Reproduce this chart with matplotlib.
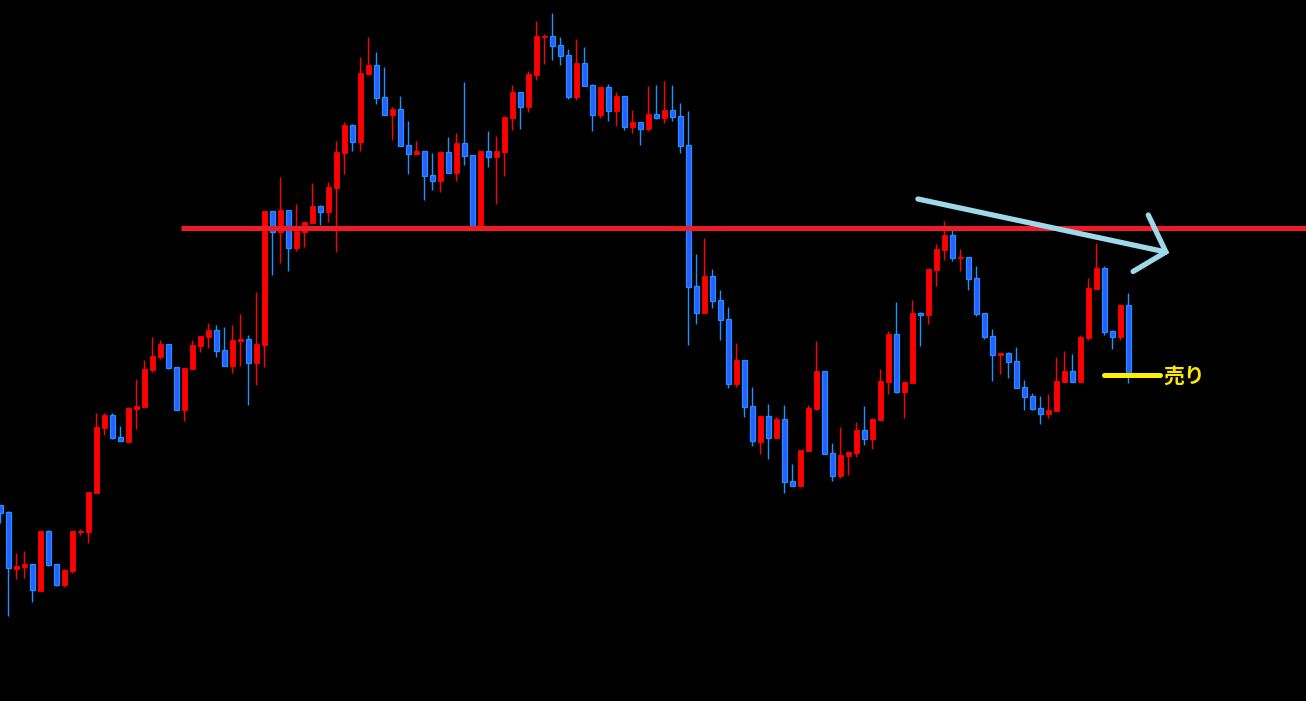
import matplotlib
matplotlib.use("Agg")
import matplotlib.pyplot as plt
from matplotlib.patches import Rectangle
import numpy as np

# Candle readings (screen levels: smaller = higher price). Price = 700 - level.
# Each candle: open, high, low, close as levels
open_lv = [505, 512, 569, 567, 564, 591, 531, 564, 585, 571, 532, 532, 493, 428, 415, 437, 442, 409, 407, 370,
           357, 344, 367, 410, 369, 346, 337, 330, 350, 366, 341, 339, 363, 345, 211, 232, 210, 248, 232, 223,
           206, 212, 188, 153, 125, 142, 74, 65, 97, 115, 109, 145, 154, 151, 175, 181, 152, 173, 143, 155,
           226, 151, 157, 152, 118, 92, 107, 75, 37, 36, 45, 55, 97, 63, 85, 115, 87, 111, 96, 127,
           122, 129, 114, 118, 110, 116, 145, 286, 313, 276, 300, 319, 384, 360, 406, 442, 416, 438, 419, 481,
           486, 451, 409, 371, 453, 476, 456, 453, 430, 439, 420, 382, 334, 392, 383, 313, 315, 270, 250, 235,
           258, 257, 278, 313, 336, 355, 353, 361, 387, 396, 408, 414, 411, 382, 371, 382, 338, 289, 268, 331,
           337, 305]
high_lv = [505, 511, 553, 551, 564, 531, 530, 564, 569, 531, 529, 492, 413, 413, 413, 426, 407, 379, 360, 337,
           340, 344, 367, 368, 340, 336, 323, 325, 327, 325, 314, 335, 292, 211, 211, 177, 210, 204, 222, 183,
           205, 182, 141, 122, 124, 57, 37, 52, 67, 107, 96, 121, 141, 151, 153, 151, 137, 133, 82, 155,
           151, 131, 136, 116, 85, 92, 71, 21, 34, 13, 37, 49, 39, 47, 84, 87, 84, 92, 96, 110,
           122, 86, 85, 81, 85, 103, 111, 254, 238, 269, 290, 307, 343, 360, 387, 416, 404, 417, 405, 464,
           450, 405, 341, 371, 443, 427, 451, 422, 406, 418, 369, 331, 302, 382, 300, 312, 269, 244, 221, 230,
           249, 257, 266, 313, 329, 353, 352, 347, 380, 393, 396, 394, 357, 351, 354, 335, 278, 243, 266, 330,
           305, 293]
low_lv = [523, 616, 579, 578, 602, 591, 566, 586, 587, 573, 535, 543, 493, 435, 439, 441, 442, 429, 407, 372,
          359, 369, 410, 421, 369, 352, 348, 357, 366, 373, 366, 405, 385, 367, 275, 263, 271, 251, 247, 223,
          225, 222, 252, 174, 151, 151, 74, 104, 115, 140, 146, 174, 155, 200, 190, 192, 173, 181, 165, 226,
          226, 167, 204, 176, 130, 129, 112, 80, 64, 60, 65, 99, 100, 86, 131, 118, 121, 126, 130, 133,
          145, 131, 119, 123, 121, 153, 345, 324, 313, 308, 340, 388, 387, 417, 446, 454, 459, 438, 493, 486,
          487, 451, 410, 454, 481, 478, 475, 457, 445, 449, 420, 394, 393, 418, 383, 346, 324, 286, 260, 261,
          271, 290, 316, 339, 381, 374, 378, 388, 410, 410, 424, 418, 411, 382, 382, 382, 340, 289, 335, 349,
          340, 383]
close_lv = [513, 568, 566, 564, 590, 531, 565, 585, 570, 531, 531, 492, 427, 415, 438, 441, 408, 406, 369, 356,
            344, 368, 410, 368, 345, 336, 330, 351, 366, 340, 339, 363, 344, 211, 232, 210, 248, 231, 222, 206,
            212, 187, 152, 125, 142, 73, 65, 98, 115, 109, 146, 154, 151, 176, 181, 152, 173, 143, 156, 226,
            151, 157, 151, 117, 92, 107, 74, 36, 36, 46, 56, 97, 63, 86, 115, 87, 111, 96, 127, 122,
            129, 114, 118, 110, 117, 146, 287, 313, 276, 301, 320, 384, 360, 407, 441, 416, 438, 419, 482, 486,
            450, 408, 371, 454, 476, 455, 452, 430, 439, 419, 381, 334, 392, 382, 313, 315, 269, 249, 235, 258,
            257, 279, 314, 337, 355, 353, 362, 388, 397, 409, 414, 410, 381, 371, 382, 337, 288, 268, 332, 337,
            305, 373]

o = 700 - np.array(open_lv, float)
h = 700 - np.array(high_lv, float)
l = 700 - np.array(low_lv, float)
c = 700 - np.array(close_lv, float)

resistance = 472.5
sell_level = 325
sell_label = "売り"

UP = "#FF0000"
DN_FACE = "#2D5CFF"
DN_EDGE = "#1E90FF"

fig = plt.figure(figsize=(13.06, 7.01), dpi=100, facecolor="black")
ax = fig.add_axes([0, 0, 1, 1])
ax.set_facecolor("black")
ax.set_xlim(-0.0375, 163.2125)
ax.set_ylim(-1, 700)
ax.axis("off")

w = 0.62
for i in range(len(o)):
    up = c[i] >= o[i]
    wcol = UP if up else DN_EDGE
    ax.vlines(i, l[i], h[i], color=wcol, linewidth=1.0, zorder=2)
    bottom = min(o[i], c[i])
    height = max(abs(c[i] - o[i]), 1.2)
    if up:
        ax.add_patch(Rectangle((i - w / 2, bottom), w, height, facecolor=UP, edgecolor=UP,
                               linewidth=0.6, zorder=3))
    else:
        ax.add_patch(Rectangle((i - w / 2, bottom), w, height, facecolor=DN_FACE, edgecolor=DN_EDGE,
                               linewidth=0.9, zorder=3))

# Resistance line
ax.plot([22.6, 170], [resistance, resistance], color="#EE1C25", linewidth=3.6, zorder=4,
        solid_capstyle="butt")

# Down arrow
acol = "#9ED9E9"
ax.plot([114.7, 145.7], [501, 448], color=acol, linewidth=3.8, solid_capstyle="round", zorder=5)
ax.plot([143.5, 145.7, 141.6], [485, 448, 428.5], color=acol, linewidth=3.8,
        solid_capstyle="round", solid_joinstyle="miter", zorder=5)

# Sell marker
ax.plot([138.0, 144.9], [sell_level, sell_level], color="#FFF000", linewidth=3.6,
        solid_capstyle="round", zorder=5)
ax.text(145.4, sell_level - 1, sell_label, color="#FFE800", fontsize=15, fontweight="bold",
        family=["Noto Sans CJK JP", "DejaVu Sans"], va="center", ha="left", zorder=6)

fig.savefig("out.png", dpi=100, facecolor="black")
